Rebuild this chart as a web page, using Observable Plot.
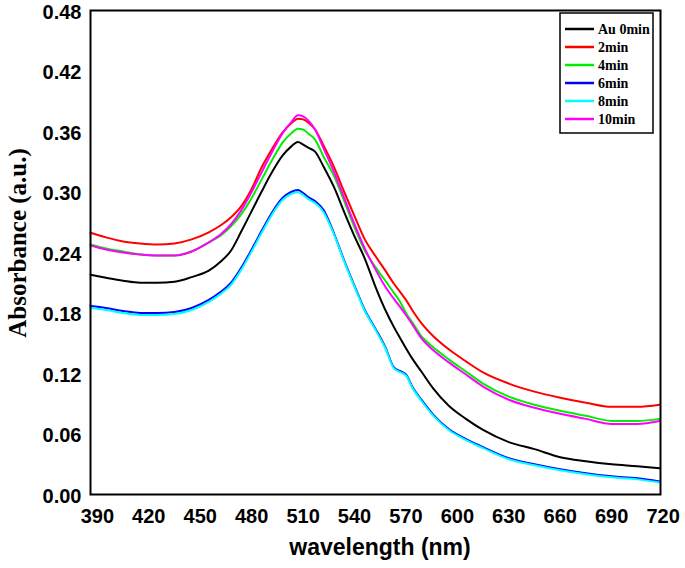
<!DOCTYPE html>
<html><head><meta charset="utf-8">
<script src="https://cdn.jsdelivr.net/npm/d3@7"></script>
<script src="https://cdn.jsdelivr.net/npm/@observablehq/plot@0.6"></script>
<style>
body{margin:0;background:#fff}
#chart{position:relative;width:685px;height:568px}
#chart svg text{font-weight:bold}
</style>
</head><body><div id="chart"></div>
<script>
const wavelengths = [386,395,405,415,425,435,445,455,462,468,474,480,486,492,498,503,507,510,513,517,522,528,534,540,546,552,558,563,567,570,574,579,586,595,605,615,630,645,660,675,690,705,718];
const au0min = [0.218,0.215,0.212,0.210,0.210,0.211,0.2156,0.222,0.231,0.242,0.261,0.281,0.301,0.320,0.336,0.345,0.3495,0.347,0.344,0.340,0.325,0.305,0.280,0.256,0.234,0.207,0.183,0.166,0.154,0.145,0.134,0.122,0.105,0.088,0.075,0.064,0.052,0.045,0.037,0.033,0.030,0.028,0.026];
const min2 = [0.2596,0.255,0.251,0.249,0.248,0.249,0.253,0.260,0.267,0.275,0.286,0.303,0.325,0.343,0.359,0.368,0.3727,0.372,0.369,0.362,0.346,0.325,0.300,0.276,0.253,0.237,0.222,0.209,0.200,0.193,0.182,0.170,0.157,0.144,0.132,0.121,0.110,0.102,0.096,0.091,0.087,0.087,0.089];
const min4 = [0.248,0.244,0.241,0.238,0.237,0.237,0.241,0.250,0.257,0.266,0.278,0.294,0.313,0.332,0.349,0.358,0.3628,0.362,0.358,0.352,0.335,0.316,0.291,0.265,0.242,0.226,0.212,0.200,0.190,0.180,0.170,0.157,0.146,0.134,0.122,0.110,0.097,0.089,0.083,0.078,0.073,0.073,0.075];
const min6 = [0.187,0.185,0.182,0.180,0.180,0.181,0.185,0.193,0.201,0.210,0.225,0.243,0.262,0.280,0.294,0.300,0.302,0.299,0.295,0.291,0.282,0.259,0.232,0.207,0.183,0.165,0.146,0.126,0.122,0.119,0.106,0.094,0.079,0.065,0.055,0.047,0.036,0.030,0.025,0.021,0.018,0.016,0.013];
const min8 = [0.185,0.183,0.180,0.178,0.178,0.179,0.183,0.191,0.199,0.208,0.223,0.241,0.260,0.278,0.292,0.298,0.300,0.297,0.293,0.289,0.280,0.258,0.231,0.206,0.182,0.164,0.145,0.125,0.121,0.118,0.105,0.093,0.078,0.064,0.054,0.046,0.035,0.029,0.024,0.020,0.017,0.015,0.012];
const min10 = [0.247,0.243,0.240,0.238,0.237,0.237,0.241,0.250,0.258,0.268,0.282,0.300,0.320,0.340,0.358,0.369,0.376,0.375,0.371,0.362,0.343,0.320,0.294,0.268,0.244,0.224,0.206,0.194,0.185,0.178,0.168,0.155,0.143,0.131,0.119,0.107,0.094,0.086,0.080,0.075,0.070,0.070,0.073];
const seriesNames = ["Au 0min","2min","4min","6min","8min","10min"];
const seriesColors = ["#000000","#ff0000","#00ee00","#0000ff","#00ffff","#ff00ff"];
const xTicks = [390,420,450,480,510,540,570,600,630,660,690,720];
const yTicks = [0,0.06,0.12,0.18,0.24,0.30,0.36,0.42,0.48];

const allSeries = [au0min, min2, min4, min6, min8, min10];
const rows = [];
allSeries.forEach((vals, i) => vals.forEach((v, j) => rows.push({wl: wavelengths[j], a: v, s: seriesNames[i]})));

const plot = Plot.plot({
  width: 685, height: 568,
  marginLeft: 90, marginRight: 25, marginTop: 10, marginBottom: 74,
  x: {domain: [386, 718.5]},
  y: {domain: [0, 0.48]},
  color: {domain: seriesNames, range: seriesColors},
  style: {fontFamily: "'Liberation Sans', Arial, sans-serif", background: "#fff", color: "#000"},
  marks: [
    Plot.axisX({ticks: xTicks, tickSize: 0, tickPadding: 14, fontSize: 20, fontWeight: "bold", label: null, tickFormat: d => String(d)}),
    Plot.axisY({ticks: yTicks, tickSize: 0, tickPadding: 9, fontSize: 20, fontWeight: "bold", label: null, tickFormat: d => d.toFixed(2), dy: 2}),
    Plot.line(rows, {x: "wl", y: "a", z: "s", stroke: "s", strokeWidth: 2, curve: "monotone-x"}),
    Plot.frame({stroke: "#000", strokeWidth: 2})
  ]
});
document.getElementById("chart").appendChild(plot);

const svg = d3.select(plot);
svg.append("text")
  .attr("x", 380).attr("y", 555)
  .attr("text-anchor", "middle")
  .attr("font-family", "'Liberation Sans', Arial, sans-serif")
  .attr("font-size", 23).attr("font-weight", "bold")
  .text("wavelength (nm)");
svg.append("text")
  .attr("transform", "translate(26,243) rotate(-90)")
  .attr("text-anchor", "middle")
  .attr("font-family", "'Liberation Serif', 'Times New Roman', serif")
  .attr("font-size", 25).attr("font-weight", "bold")
  .text("Absorbance (a.u.)");

const lg = svg.append("g");
lg.append("rect").attr("x", 560).attr("y", 13).attr("width", 93).attr("height", 120)
  .attr("fill", "#fff").attr("stroke", "#000").attr("stroke-width", 1.5);
seriesNames.forEach((name, i) => {
  const yy = 29 + i * 18;
  lg.append("line").attr("x1", 565).attr("x2", 594).attr("y1", yy).attr("y2", yy)
    .attr("stroke", seriesColors[i]).attr("stroke-width", 2.5);
  lg.append("text").attr("x", 598).attr("y", yy + 5)
    .attr("text-anchor", "start")
    .attr("font-family", "'Liberation Serif', 'Times New Roman', serif")
    .attr("font-size", 14).attr("font-weight", "bold")
    .text(name);
});
</script>
</body></html>
